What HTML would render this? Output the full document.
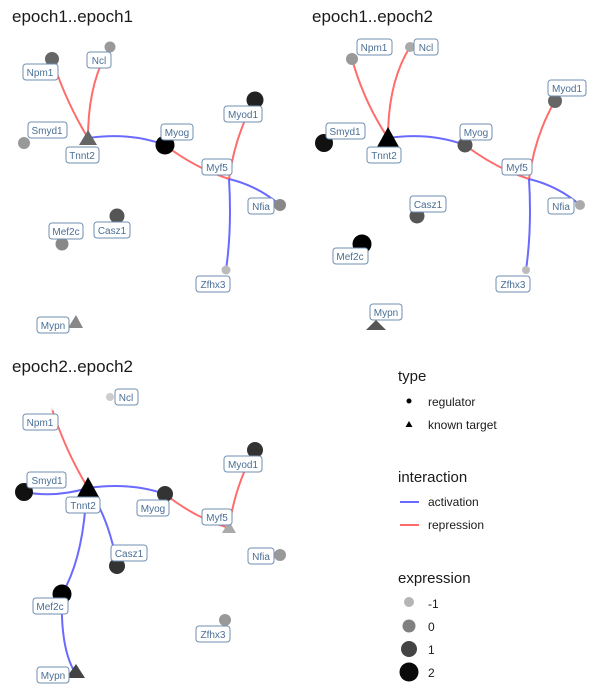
<!DOCTYPE html>
<html><head><meta charset="utf-8"><style>
html,body{margin:0;padding:0;background:#fff;}
svg{display:block;font-family:"Liberation Sans",Arial,sans-serif;}
.t{font-size:17px;fill:#1a1a1a;}
.lb rect{fill:#fff;stroke:#6f8fb0;stroke-width:1;}
.lb text{font-size:10px;fill:#4a6f95;text-anchor:middle;}
.r{stroke:#ff5c5c;stroke-width:2;fill:none;opacity:.9}
.b{stroke:#5a5aff;stroke-width:2;fill:none;opacity:.9}
.lg{font-size:12px;fill:#1a1a1a;}
.lh{font-size:15px;fill:#1a1a1a;}
</style></head><body>
<svg width="600" height="700" viewBox="0 0 600 700">
<text class="t" x="12" y="22">epoch1..epoch1</text>
<text class="t" x="312" y="22">epoch1..epoch2</text>
<text class="t" x="12" y="372">epoch2..epoch2</text>

<!-- Panel 1 -->
<g>
<path class="r" d="M52,59 Q66,102 88,138"/>
<path class="r" d="M110,47 Q88,82 88,138"/>
<path class="b" d="M88,138 Q130,132 165,145"/>
<path class="r" d="M165,145 Q195,168 229,179"/>
<path class="r" d="M255,100 Q235,135 229,179"/>
<path class="b" d="M229,179 Q258,186 280,205"/>
<path class="b" d="M229,179 Q232,228 226,270"/>
<circle cx="52" cy="59" r="7" fill="#666"/>
<circle cx="110" cy="47" r="5.5" fill="#999"/>
<circle cx="24" cy="143" r="6" fill="#999"/>
<polygon points="88,130 79,145 97,145" fill="#666"/>
<circle cx="165" cy="145" r="9.5" fill="#000"/>
<circle cx="255" cy="100" r="8.5" fill="#222"/>
<circle cx="280" cy="205" r="6" fill="#888"/>
<circle cx="117" cy="216" r="7.5" fill="#555"/>
<circle cx="62" cy="244" r="6.5" fill="#888"/>
<circle cx="226" cy="270" r="4.5" fill="#bbb"/>
<polygon points="76,315 68,328 83,328" fill="#888"/>
<g class="lb">
<rect x="23" y="64" width="35" height="16" rx="3"/><text x="40" y="76">Npm1</text>
<rect x="87" y="52" width="24" height="16" rx="3"/><text x="99" y="64">Ncl</text>
<rect x="28" y="122" width="39" height="16" rx="3"/><text x="47" y="134">Smyd1</text>
<rect x="66" y="147" width="33" height="16" rx="3"/><text x="82" y="159">Tnnt2</text>
<rect x="161" y="124" width="32" height="16" rx="3"/><text x="177" y="136">Myog</text>
<rect x="224" y="106" width="38" height="16" rx="3"/><text x="243" y="118">Myod1</text>
<rect x="202" y="159" width="30" height="16" rx="3"/><text x="217" y="171">Myf5</text>
<rect x="248" y="198" width="26" height="16" rx="3"/><text x="261" y="210">Nfia</text>
<rect x="94" y="222" width="36" height="16" rx="3"/><text x="112" y="234">Casz1</text>
<rect x="49" y="223" width="34" height="16" rx="3"/><text x="66" y="235">Mef2c</text>
<rect x="196" y="276" width="34" height="16" rx="3"/><text x="213" y="288">Zfhx3</text>
<rect x="37" y="317" width="32" height="16" rx="3"/><text x="53" y="329">Mypn</text>
</g>
</g>

<!-- Panel 2 -->
<g>
<path class="r" d="M352,59 Q364,102 388,138"/>
<path class="r" d="M410,47 Q388,82 388,138"/>
<path class="b" d="M388,138 Q430,132 465,145"/>
<path class="r" d="M465,145 Q495,168 529,179"/>
<path class="r" d="M555,101 Q535,135 529,179"/>
<path class="b" d="M529,179 Q558,186 580,205"/>
<path class="b" d="M529,179 Q532,228 526,270"/>
<circle cx="352" cy="59" r="6" fill="#999"/>
<circle cx="410" cy="47" r="5" fill="#aaa"/>
<circle cx="324" cy="143" r="9" fill="#111"/>
<polygon points="388,127 377,147 399,147" fill="#000"/>
<circle cx="465" cy="145" r="7.5" fill="#555"/>
<circle cx="555" cy="101" r="7" fill="#666"/>
<circle cx="580" cy="205" r="5" fill="#aaa"/>
<circle cx="417" cy="216" r="7.5" fill="#555"/>
<circle cx="362" cy="244" r="9.5" fill="#000"/>
<circle cx="526" cy="270" r="4" fill="#bbb"/>
<polygon points="376,320 366,330 386,330" fill="#555"/>
<g class="lb">
<rect x="357" y="39" width="35" height="16" rx="3"/><text x="374" y="51">Npm1</text>
<rect x="414" y="39" width="24" height="16" rx="3"/><text x="426" y="51">Ncl</text>
<rect x="548" y="80" width="38" height="16" rx="3"/><text x="567" y="92">Myod1</text>
<rect x="326" y="123" width="39" height="16" rx="3"/><text x="345" y="135">Smyd1</text>
<rect x="367" y="147" width="34" height="16" rx="3"/><text x="384" y="159">Tnnt2</text>
<rect x="460" y="124" width="32" height="16" rx="3"/><text x="476" y="136">Myog</text>
<rect x="502" y="159" width="30" height="16" rx="3"/><text x="517" y="171">Myf5</text>
<rect x="548" y="198" width="26" height="16" rx="3"/><text x="561" y="210">Nfia</text>
<rect x="410" y="196" width="36" height="16" rx="3"/><text x="428" y="208">Casz1</text>
<rect x="333" y="248" width="35" height="16" rx="3"/><text x="350" y="260">Mef2c</text>
<rect x="496" y="276" width="34" height="16" rx="3"/><text x="513" y="288">Zfhx3</text>
<rect x="370" y="304" width="32" height="16" rx="3"/><text x="386" y="316">Mypn</text>
</g>
</g>

<!-- Panel 3 -->
<g>
<path class="r" d="M52,409 Q66,452 88,488"/>
<path class="b" d="M24,492 Q55,498 88,488"/>
<path class="b" d="M88,488 Q130,482 165,494"/>
<path class="r" d="M165,494 Q195,518 229,528"/>
<path class="r" d="M255,450 Q235,485 229,528"/>
<path class="b" d="M88,488 Q110,520 117,566"/>
<path class="b" d="M86,500 Q82,560 62,594"/>
<path class="b" d="M62,594 Q60,650 76,674"/>
<circle cx="52" cy="409" r="1.5" fill="#eee"/>
<circle cx="110" cy="397" r="4" fill="#ccc"/>
<circle cx="24" cy="492" r="9" fill="#111"/>
<polygon points="88,477 77,497 99,497" fill="#000"/>
<circle cx="165" cy="494" r="8" fill="#333"/>
<circle cx="255" cy="450" r="8" fill="#333"/>
<polygon points="229,521 222,533 236,533" fill="#aaa"/>
<circle cx="280" cy="555" r="6" fill="#999"/>
<circle cx="117" cy="566" r="8" fill="#333"/>
<circle cx="62" cy="594" r="9.5" fill="#000"/>
<circle cx="225" cy="620" r="6" fill="#999"/>
<polygon points="76,664 66,678 85,678" fill="#444"/>
<g class="lb">
<rect x="115" y="389" width="23" height="16" rx="3"/><text x="126" y="401">Ncl</text>
<rect x="23" y="414" width="35" height="16" rx="3"/><text x="40" y="426">Npm1</text>
<rect x="27" y="472" width="39" height="16" rx="3"/><text x="47" y="484">Smyd1</text>
<rect x="66" y="497" width="34" height="16" rx="3"/><text x="83" y="509">Tnnt2</text>
<rect x="137" y="500" width="32" height="16" rx="3"/><text x="153" y="512">Myog</text>
<rect x="224" y="456" width="38" height="16" rx="3"/><text x="243" y="468">Myod1</text>
<rect x="202" y="509" width="30" height="16" rx="3"/><text x="217" y="521">Myf5</text>
<rect x="248" y="548" width="26" height="16" rx="3"/><text x="261" y="560">Nfia</text>
<rect x="111" y="545" width="36" height="16" rx="3"/><text x="129" y="557">Casz1</text>
<rect x="33" y="598" width="35" height="16" rx="3"/><text x="50" y="610">Mef2c</text>
<rect x="196" y="626" width="34" height="16" rx="3"/><text x="213" y="638">Zfhx3</text>
<rect x="37" y="667" width="32" height="16" rx="3"/><text x="53" y="679">Mypn</text>
</g>
</g>

<!-- Legend -->
<text class="lh" x="398" y="381">type</text>
<circle cx="409" cy="401" r="2.5" fill="#000"/>
<text class="lg" x="428" y="406">regulator</text>
<polygon points="409,421 405.5,427 412.5,427" fill="#000"/>
<text class="lg" x="428" y="429">known target</text>
<text class="lh" x="398" y="482">interaction</text>
<line x1="400" y1="502" x2="419" y2="502" stroke="#6a6aff" stroke-width="2"/>
<text class="lg" x="428" y="506">activation</text>
<line x1="400" y1="525" x2="419" y2="525" stroke="#ff6b6b" stroke-width="2"/>
<text class="lg" x="428" y="529">repression</text>
<text class="lh" x="398" y="583">expression</text>
<circle cx="409" cy="602" r="5" fill="#b5b5b5"/>
<text class="lg" x="428" y="608">-1</text>
<circle cx="409" cy="626" r="6.5" fill="#808080"/>
<text class="lg" x="428" y="631">0</text>
<circle cx="409" cy="649" r="8" fill="#444"/>
<text class="lg" x="428" y="654">1</text>
<circle cx="409" cy="672" r="9.5" fill="#0a0a0a"/>
<text class="lg" x="428" y="677">2</text>
</svg>
</body></html>
